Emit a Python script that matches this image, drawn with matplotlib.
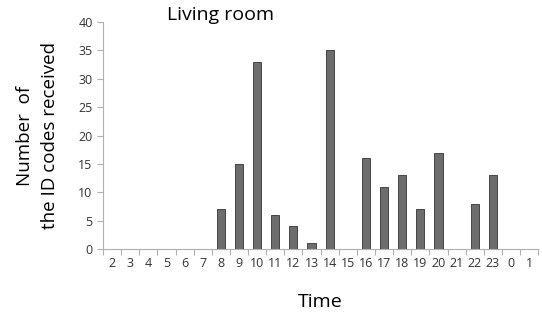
import matplotlib.pyplot as plt
import numpy as np

hours = ['2', '3', '4', '5', '6', '7', '8', '9', '10', '11', '12', '13',
         '14', '15', '16', '17', '18', '19', '20', '21', '22', '23', '0', '1']
counts = [0, 0, 0, 0, 0, 0, 7, 15, 33, 6, 4, 1,
          35, 0, 16, 11, 13, 7, 17, 0, 8, 13, 0, 0]

plt.rcParams['font.family'] = ['Open Sans', 'DejaVu Sans']

fig = plt.figure(figsize=(5.42, 3.16), dpi=100)
ax = fig.add_axes([0.190, 0.212, 0.803, 0.718])

x = np.arange(len(hours))
ax.bar(x, counts, width=0.45, color='#6d6d6d', edgecolor='#333333', linewidth=0.6)

ax.set_xlim(-0.5, len(hours) - 0.5)
ax.set_ylim(0, 40)
ax.set_yticks(range(0, 41, 5))
ax.set_xticks(x)
ax.set_xticklabels(hours)
# tick marks sit between categories
ax.set_xticks(np.arange(-0.5, len(hours), 1), minor=True)
ax.tick_params(axis='x', which='major', length=0, pad=6, labelsize=9, colors='#333333')
ax.tick_params(axis='x', which='minor', length=4, color='#b0b0b0', width=0.8)
ax.tick_params(axis='y', length=4, color='#b0b0b0', width=0.8, labelsize=9, colors='#333333')
ax.tick_params(axis='y', which='both', color='#b0b0b0')

for s in ['top', 'right']:
    ax.spines[s].set_visible(False)
for s in ['left', 'bottom']:
    ax.spines[s].set_color('#b0b0b0')
    ax.spines[s].set_linewidth(0.8)

ax.text(0.147, 1.03, 'Living room', transform=ax.transAxes, fontsize=14,
        va='center', ha='left')
ax.set_xlabel('Time', fontsize=14, labelpad=16)
ax.set_ylabel('Number  of\nthe ID codes received', fontsize=13.5, labelpad=14,
              linespacing=1.45)

fig.savefig('out.png', dpi=100)
